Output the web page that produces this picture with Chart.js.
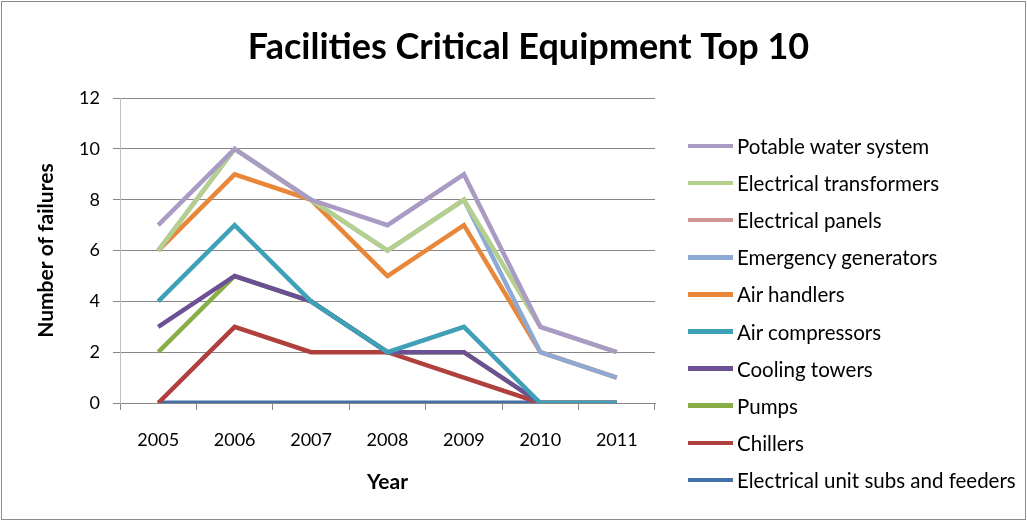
<!DOCTYPE html>
<html>
<head>
<meta charset="utf-8">
<title>Facilities Critical Equipment Top 10</title>
<script src="https://cdn.jsdelivr.net/npm/chart.js@4.4.0/dist/chart.umd.min.js"></script>
<style>
  body { margin: 0; background: #fff; }
  #wrap { position: relative; width: 1027px; height: 521px; }
  #legend { position: absolute; left: 688px; top: 0; font-family: Lato, sans-serif; font-size: 20.5px; color: #000; }
  .item { position: absolute; left: 0; display: flex; align-items: center; white-space: nowrap; transform: translateY(-50%); }
  .swatch { width: 45px; height: 4.5px; margin-right: 4px; }
</style>
</head>
<body>
<div id="wrap">
  <canvas id="chart" width="1027" height="521"></canvas>
  <div id="legend"></div>
</div>
<script>
const years = ['2005', '2006', '2007', '2008', '2009', '2010', '2011'];

// series listed in legend order (top to bottom)
const potableWater = [7, 10, 8, 7, 9, 3, 2];
const electricalTransformers = [6, 10, 8, 6, 8, 3, 2];
const electricalPanels = [null, null, null, null, null, null, null];
const emergencyGenerators = [6, 10, 8, 6, 8, 2, 1];
const airHandlers = [6, 9, 8, 5, 7, 2, 1];
const airCompressors = [4, 7, 4, 2, 3, 0, 0];
const coolingTowers = [3, 5, 4, 2, 2, 0, 0];
const pumps = [2, 5, 4, 2, 2, 0, 0];
const chillers = [0, 3, 2, 2, 1, 0, 0];
const electricalSubs = [0, 0, 0, 0, 0, 0, 0];

const yTicks = [0, 2, 4, 6, 8, 10, 12];

const makeSeries = (label, data, color) => ({
  label: label,
  data: data,
  borderColor: color,
  backgroundColor: color,
  borderWidth: 4.5,
  pointRadius: 0,
  tension: 0,
  fill: false
});

const datasets = [
  makeSeries('Potable water system', potableWater, '#a99bc4'),
  makeSeries('Electrical transformers', electricalTransformers, '#b5cf8d'),
  makeSeries('Electrical panels', electricalPanels, '#d09494'),
  makeSeries('Emergency generators', emergencyGenerators, '#8ea9d4'),
  makeSeries('Air handlers', airHandlers, '#e8873a'),
  makeSeries('Air compressors', airCompressors, '#40a0b8'),
  makeSeries('Cooling towers', coolingTowers, '#6b5194'),
  makeSeries('Pumps', pumps, '#8aae47'),
  makeSeries('Chillers', chillers, '#b0403d'),
  makeSeries('Electrical unit subs and feeders', electricalSubs, '#4470a8')
];
datasets[datasets.length - 1].borderWidth = 5;

// thin grey frame round the whole chart
const frame = {
  id: 'frame',
  afterDraw: (chart) => {
    const ctx = chart.ctx;
    ctx.save();
    ctx.strokeStyle = '#8c8c8c';
    ctx.lineWidth = 1;
    ctx.strokeRect(1.5, 1.5, chart.width - 3, chart.height - 3);
    ctx.restore();
  }
};

const ctx = document.getElementById('chart').getContext('2d');
const chart = new Chart(ctx, {
  type: 'line',
  data: { labels: years, datasets: datasets },
  plugins: [frame],
  options: {
    responsive: false,
    animation: false,
    layout: { padding: { left: 30, right: 0, top: 0, bottom: 22 } },
    plugins: {
      legend: { display: false },
      tooltip: { enabled: false },
      title: {
        display: true,
        text: 'Facilities Critical Equipment Top 10',
        color: '#000',
        font: { family: 'Lato', size: 36, weight: 'bold' },
        padding: { top: 26, bottom: 29 }
      }
    },
    scales: {
      x: {
        offset: true,
        grid: { offset: true, drawOnChartArea: false, drawTicks: true, tickLength: 7, color: '#868686' },
        border: { color: '#868686' },
        ticks: { color: '#000', font: { family: 'Lato', size: 18 }, padding: 19 },
        title: { display: true, text: 'Year', color: '#000', font: { family: 'Lato', size: 21, weight: 'bold' } },
        afterFit: (scale) => { scale.height = 118 - 22; }
      },
      y: {
        min: 0,
        max: 12,
        afterBuildTicks: (scale) => { scale.ticks = yTicks.map(v => ({ value: v })); },
        grid: { color: '#868686', drawTicks: true, tickLength: 7 },
        border: { color: '#bfbfbf' },
        ticks: { color: '#000', font: { family: 'Lato', size: 18 }, padding: 13 },
        title: { display: true, text: 'Number of failures', color: '#000', font: { family: 'Lato', size: 21, weight: 'bold' } },
        afterFit: (scale) => { scale.width = 120 - 30; }
      },
      // empty right-hand scale that reserves room for the legend
      side: {
        axis: 'y',
        position: 'right',
        min: 0,
        max: 12,
        grid: { display: false },
        border: { display: false },
        ticks: { display: false },
        afterFit: (scale) => { scale.width = 1027 - 655; }
      }
    }
  }
});

// legend built from the chart's datasets
const legend = document.getElementById('legend');
chart.data.datasets.forEach((ds, i) => {
  const item = document.createElement('div');
  item.className = 'item';
  item.style.top = (146 + i * 37.1) + 'px';
  item.innerHTML = `<span class="swatch" style="background:${ds.borderColor}"></span><span>${ds.label}</span>`;
  legend.appendChild(item);
});
</script>
</body>
</html>
